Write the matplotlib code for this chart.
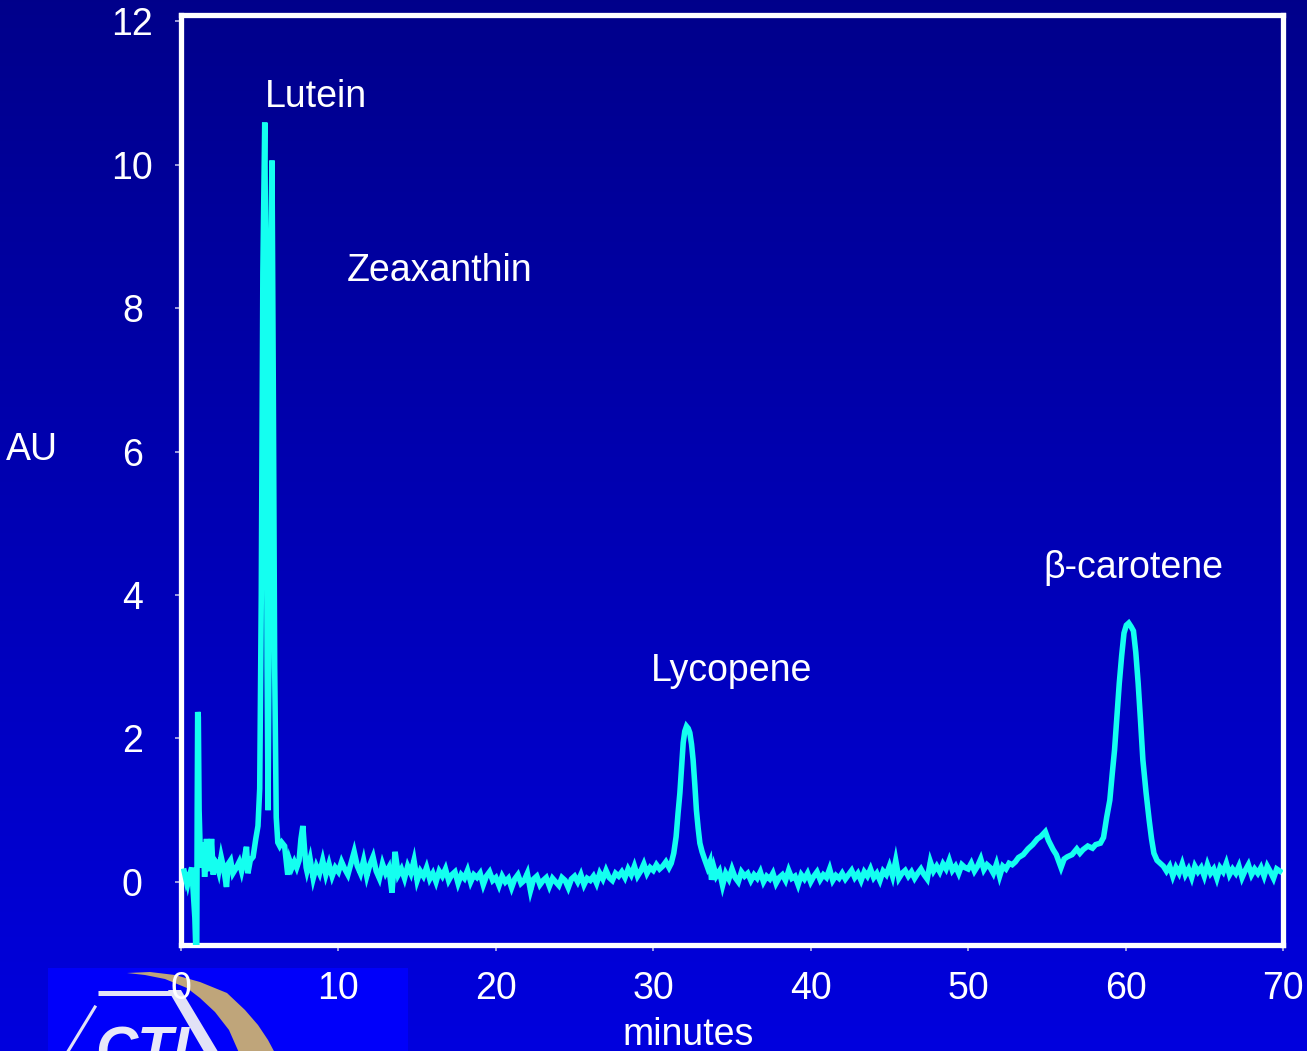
import numpy as np
import matplotlib
matplotlib.use("Agg")
import matplotlib.pyplot as plt
from matplotlib.patches import Rectangle, Polygon

plt.rcParams['font.family'] = ['Liberation Sans', 'DejaVu Sans']

# ---------------- data ----------------
# early region incl. injection spike, Lutein and Zeaxanthin
early_t = [0.2, 0.3, 0.36, 0.45, 0.55, 0.68, 0.78, 0.88, 0.95, 1.0, 1.03, 1.06, 1.1, 1.15,
           1.25, 1.33, 1.41, 1.5, 1.62, 1.7, 1.8, 1.94, 2.05, 2.15, 2.26, 2.4, 2.55, 2.7,
           2.89, 3.0, 3.15, 3.3, 3.52, 3.7, 3.85, 4.0, 4.16, 4.25, 4.4, 4.58, 4.75, 4.89,
           5.0, 5.1, 5.2, 5.32, 5.4, 5.47, 5.53, 5.6, 5.68, 5.78, 5.86, 5.95, 6.05, 6.15,
           6.27, 6.4, 6.58, 6.68, 6.78, 6.9, 7.05, 7.2, 7.35, 7.5, 7.62, 7.74, 7.85, 7.95]
early_au = [0.15, 0.05, 0.12, 0.0, 0.1, 0.2, -0.15, -0.5, -1.0, -1.0, 1.0, 2.37, 2.3, 1.0,
            0.2, 0.35, 0.55, 0.07, 0.6, 0.3, 0.15, 0.6, 0.1, 0.3, 0.27, 0.15, 0.35, 0.2,
            -0.07, 0.25, 0.3, 0.12, 0.2, 0.28, 0.15, 0.3, 0.49, 0.12, 0.3, 0.35, 0.6, 0.78,
            1.3, 4.0, 8.5, 10.59, 8.0, 3.0, 1.0, 3.5, 8.5, 10.06, 7.0, 3.0, 0.9, 0.55,
            0.5, 0.55, 0.5, 0.3, 0.1, 0.3, 0.2, 0.28, 0.2, 0.3, 0.6, 0.78, 0.45, 0.2]

# baseline 8.0 .. 30.4 min, sampled every 0.2 min
base1_start, base1_step = 8.0, 0.2
base1_au = [0.15, 0.32, 0.05, 0.22, 0.12, 0.30, 0.10, 0.25, 0.08, 0.20,
            0.14, 0.28, 0.18, 0.10, 0.26, 0.42, 0.22, 0.12, 0.30, 0.08,
            0.24, 0.35, 0.15, 0.05, 0.25, 0.12, 0.20, -0.15, 0.42, 0.10,
            0.18, 0.05, 0.22, 0.12, 0.30, 0.02, 0.15, 0.08, 0.20, 0.04,
            0.12, 0.0, 0.15, 0.08, 0.18, 0.02, 0.10, 0.14, -0.02, 0.10,
            0.05, 0.16, 0.0, 0.10, 0.06, 0.12, -0.04, 0.08, 0.14, 0.02,
            0.06, -0.05, 0.08, 0.0, 0.05, -0.08, 0.04, 0.10, -0.02, 0.02,
            0.12, -0.12, 0.04, 0.08, -0.04, 0.02, 0.06, -0.06, 0.05, 0.0,
            -0.05, 0.06, 0.02, -0.08, 0.04, 0.08, 0.0, 0.10, -0.04, 0.05,
            0.02, 0.08, -0.02, 0.12, 0.04, 0.16, 0.06, 0.02, 0.12, 0.08,
            0.14, 0.06, 0.18, 0.10, 0.22, 0.08, 0.15, 0.25, 0.12, 0.20,
            0.16, 0.24, 0.18]

# Lycopene peak
lyco_t = [30.6, 30.8, 31.0, 31.14, 31.3, 31.45, 31.57, 31.69, 31.8, 31.9, 32.0, 32.11,
          32.22, 32.32, 32.43, 32.53, 32.64, 32.74, 32.85, 32.96, 33.1, 33.27, 33.45,
          33.6, 33.7, 33.85]
lyco_au = [0.22, 0.28, 0.2, 0.26, 0.4, 0.63, 0.95, 1.24, 1.6, 1.94, 2.1, 2.17,
           2.14, 2.08, 1.92, 1.7, 1.35, 1.0, 0.75, 0.54, 0.42, 0.31, 0.2,
           0.28, 0.03, 0.2]

# baseline 34.0 .. 52.8 min, sampled every 0.2 min
base2_start, base2_step = 34.0, 0.2
base2_au = [0.08, 0.15, -0.05, 0.12, 0.04, 0.18, 0.06, 0.0, 0.14, 0.08,
            0.12, 0.02, 0.10, 0.05, 0.14, 0.0, 0.08, 0.04, 0.12, -0.02,
            0.06, 0.10, 0.02, 0.16, 0.05, 0.08, -0.04, 0.10, 0.04, 0.12,
            0.0, 0.08, 0.14, 0.03, 0.10, 0.06, 0.18, 0.02, 0.09, 0.05,
            0.12, 0.04, 0.10, 0.16, 0.06, 0.12, 0.02, 0.14, 0.08, 0.18,
            0.06, 0.12, 0.02, 0.15, 0.10, 0.22, 0.08, 0.30, 0.05, 0.12,
            0.16, 0.08, 0.14, 0.05, 0.12, 0.18, 0.10, 0.04, 0.28, 0.15,
            0.22, 0.14, 0.25, 0.18, 0.30, 0.16, 0.22, 0.12, 0.24, 0.20,
            0.18, 0.26, 0.15, 0.22, 0.32, 0.17, 0.24, 0.20, 0.12, 0.25,
            0.08, 0.22, 0.18, 0.26, 0.24]

# shoulder + beta-carotene peak
beta_t = [53.0, 53.2, 53.5, 53.8, 54.1, 54.4, 54.6, 54.9, 55.1, 55.4, 55.6, 55.9, 56.1,
          56.3, 56.6, 56.9, 57.1, 57.3, 57.6, 57.9, 58.1, 58.4, 58.6, 58.8, 59.0, 59.15,
          59.3, 59.45, 59.6, 59.75, 59.9, 60.05, 60.2, 60.35, 60.5, 60.65, 60.8, 60.95,
          61.1, 61.3, 61.5, 61.65, 61.8, 62.0, 62.2, 62.4]
beta_au = [0.28, 0.34, 0.38, 0.46, 0.52, 0.6, 0.63, 0.7, 0.58, 0.45, 0.38, 0.2, 0.32,
           0.35, 0.38, 0.46, 0.4, 0.45, 0.5, 0.47, 0.52, 0.54, 0.62, 0.9, 1.14, 1.5,
           1.84, 2.3, 2.77, 3.15, 3.47, 3.58, 3.61, 3.56, 3.5, 3.2, 2.77, 2.25,
           1.7, 1.25, 0.86, 0.6, 0.4, 0.3, 0.26, 0.22]

# baseline 62.6 .. 69.8 min, sampled every 0.2 min
base3_start, base3_step = 62.6, 0.2
base3_au = [0.15, 0.22, 0.08, 0.20, 0.12, 0.25, 0.10, 0.18, 0.06, 0.22,
            0.14, 0.20, 0.08, 0.24, 0.12, 0.18, 0.05, 0.20, 0.14, 0.26,
            0.10, 0.18, 0.12, 0.22, 0.06, 0.16, 0.24, 0.10, 0.18, 0.12,
            0.20, 0.08, 0.22, 0.14, 0.05, 0.18, 0.15]

x_ticks = [0, 10, 20, 30, 40, 50, 60, 70]
y_ticks = [0, 2, 4, 6, 8, 10, 12]

peak_labels = ["Lutein", "Zeaxanthin", "Lycopene", "\u03b2-carotene"]
label_pos = [(5.3, 10.95), (10.55, 8.52), (29.85, 2.94), (54.75, 4.38)]

# ---------------- assemble series ----------------
def grid(start, step, vals):
    return [round(start + step * i, 3) for i in range(len(vals))]

t_all = (early_t + grid(base1_start, base1_step, base1_au) + lyco_t
         + grid(base2_start, base2_step, base2_au) + beta_t
         + grid(base3_start, base3_step, base3_au))
au_all = early_au + base1_au + lyco_au + base2_au + beta_au + base3_au

# ---------------- figure ----------------
W, H = 1307, 1051
fig = plt.figure(figsize=(W / 100, H / 100), dpi=100)

# gradient background
bg = fig.add_axes([0, 0, 1, 1], zorder=-10)
grad = np.linspace(0.545, 0.87, 256)
img = np.zeros((256, 1, 3))
img[:, 0, 2] = grad
bg.imshow(img, aspect='auto', extent=[0, W, H, 0], interpolation='bilinear')
bg.set_xlim(0, W)
bg.set_ylim(H, 0)
bg.axis('off')

# logo (partial, bottom-left)
logo_blue = (0, 0, 0.98)
bg.add_patch(Rectangle((48, 968), 360, 90, facecolor=logo_blue, edgecolor='none', zorder=1))
crescent = Polygon([[127, 973], [150, 972], [175, 975], [200, 982], [227, 993], [245, 1010],
                    [258, 1025], [268, 1040], [276, 1055],
                    [240, 1055], [229, 1030], [215, 1012], [200, 998], [187, 988],
                    [165, 979], [145, 975]],
                   closed=True, facecolor='#bfa57a', edgecolor='none', zorder=2)
bg.add_patch(crescent)
bg.plot([98, 173], [993, 993], color='#e2e2f6', lw=3.6, solid_capstyle='butt', zorder=4)
bg.plot([95, 67], [1007, 1053], color='#e2e2f6', lw=2.2, zorder=4)
poly = Polygon([[168, 990], [181, 990], [220, 1055], [206, 1055]], closed=True,
               facecolor='#e2e2f6', edgecolor='none', zorder=4)
bg.add_patch(poly)
bg.text(95, 1068, "CTL", color='#e8e8f8', fontsize=42, fontweight='bold',
        fontstyle='italic', ha='left', va='baseline', zorder=5)

# main axes
ax = fig.add_axes([181 / W, 1 - 945 / H, (1283 - 181) / W, (945 - 15) / H])
ax.set_facecolor('none')
ax.plot(t_all, au_all, color='#14fff0', lw=4.0, solid_joinstyle='miter', zorder=3)
ax.set_xlim(0, 69.8)
ax.set_ylim(-0.88, 12.09)
ax.set_xticks(x_ticks)
ax.set_yticks(y_ticks)
ax.set_xticklabels([str(v) for v in x_ticks])
ax.set_yticklabels([str(v) for v in y_ticks])
for s in ax.spines.values():
    s.set_color('white')
    s.set_linewidth(3.8)
ax.tick_params(axis='both', direction='out', length=4, width=1.2, color='#b8b8e8',
               labelcolor='white', labelsize=27)
ax.tick_params(axis='x', pad=15)
ax.tick_params(axis='y', pad=31)
for lab in ax.get_yticklabels():
    lab.set_horizontalalignment('center')

for lab, (tx, ty) in zip(peak_labels, label_pos):
    ax.text(tx, ty, lab, color='white', fontsize=27, ha='left', va='center')

fig.text(32 / W, 1 - 450 / H, "AU", color='white', fontsize=27, ha='center', va='center')
fig.text(688 / W, 1 - 1045 / H, "minutes", color='white', fontsize=27, ha='center', va='baseline')

fig.savefig("out.png", dpi=100)
